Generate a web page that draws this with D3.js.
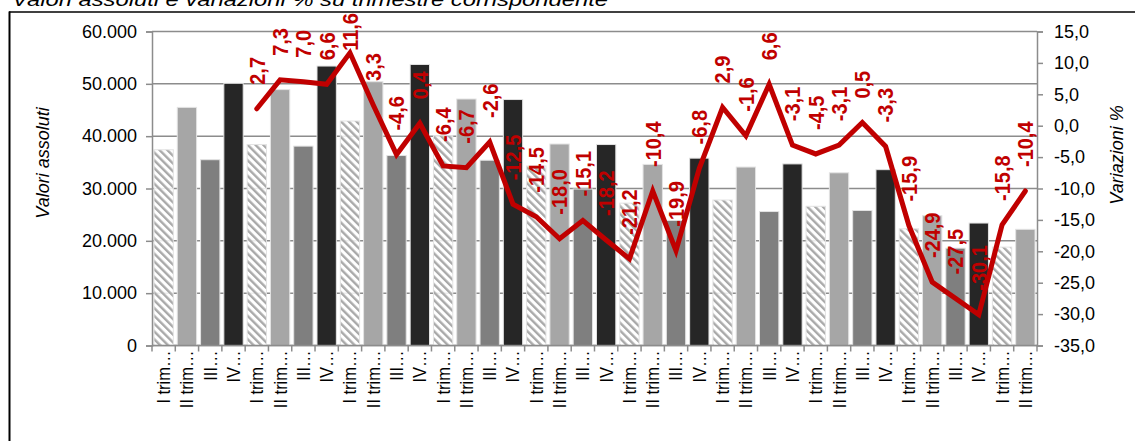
<!DOCTYPE html>
<html>
<head>
<meta charset="utf-8">
<script src="https://cdn.jsdelivr.net/npm/d3@7/dist/d3.min.js"></script>
<style>
  html, body { margin: 0; padding: 0; background: #fff; }
  svg { display: block; font-family: Arial, "Liberation Sans", sans-serif; }
</style>
</head>
<body>
<svg id="chart" width="1135" height="441"></svg>
<script>
// Quarter labels along the category axis
const tickLabels = [
  "I trim…", "II trim…", "III…", "IV…",
  "I trim…", "II trim…", "III…", "IV…",
  "I trim…", "II trim…", "III…", "IV…",
  "I trim…", "II trim…", "III…", "IV…",
  "I trim…", "II trim…", "III…", "IV…",
  "I trim…", "II trim…", "III…", "IV…",
  "I trim…", "II trim…", "III…", "IV…",
  "I trim…", "II trim…", "III…", "IV…",
  "I trim…", "II trim…", "III…", "IV…",
  "I trim…", "II trim…"
];

// Absolute values per quarter (left axis)
const valoriAssoluti = [
  37400, 45500, 35500, 50100,
  38400, 48900, 38100, 53400,
  42900, 50400, 36300, 53700,
  40100, 47100, 35400, 47000,
  34300, 38500, 29900, 38400,
  27200, 34600, 23900, 35800,
  27800, 34100, 25600, 34700,
  26600, 33000, 25800, 33600,
  22300, 24800, 18600, 23400,
  18800, 22200
];

// % change on the same quarter of the previous year (right axis), from the 5th quarter on
const variazioniStart = 4;
const variazioni = [
  2.7, 7.3, 7.0, 6.6,
  11.6, 3.3, -4.6, 0.4,
  -6.4, -6.7, -2.6, -12.5,
  -14.5, -18.0, -15.1, -18.2,
  -21.2, -10.4, -19.9, -6.8,
  2.9, -1.6, 6.6, -3.1,
  -4.5, -3.1, 0.5, -3.3,
  -15.9, -24.9, -27.5, -30.1,
  -15.8, -10.4
];

const leftTicks = [0, 10000, 20000, 30000, 40000, 50000, 60000];
const rightTicks = [15, 10, 5, 0, -5, -10, -15, -20, -25, -30, -35];

const locale = d3.formatLocale({ decimal: ",", thousands: ".", grouping: [3], currency: ["€", ""], minus: "-" });
const fmtAbs = locale.format(",.0f");
const fmtPct = locale.format(".1f");

const svg = d3.select("#chart");
const plot = { left: 152, right: 1037, top: 31.5, bottom: 345.5 };
const wide = 1.12; // glyphs are drawn slightly wider than tall

const x = d3.scaleBand()
  .domain(d3.range(valoriAssoluti.length))
  .range([plot.left, plot.right])
  .paddingInner(0.17)
  .paddingOuter(0.085);

const yL = d3.scaleLinear().domain([0, 60000]).range([plot.bottom, plot.top]);
const yR = d3.scaleLinear().domain([-35, 15]).range([plot.bottom, plot.top]);

// hatch pattern for first-quarter bars
const defs = svg.append("defs");
const pat = defs.append("pattern")
  .attr("id", "hatch")
  .attr("patternUnits", "userSpaceOnUse")
  .attr("width", 5.5).attr("height", 5.5)
  .attr("patternTransform", "rotate(-45)");
pat.append("rect").attr("width", 5.5).attr("height", 5.5).attr("fill", "#ffffff").attr("fill-opacity", 0.85);
pat.append("rect").attr("x", 0).attr("y", 0).attr("width", 2.4).attr("height", 5.5).attr("fill", "#a9a9a9");

const quarterFill = ["url(#hatch)", "#a6a6a6", "#7f7f7f", "#262626"];

// chart frame
svg.append("line").attr("x1", 9).attr("x2", 1135).attr("y1", 12).attr("y2", 12)
  .attr("stroke", "#000").attr("stroke-width", 1.5);
svg.append("line").attr("x1", 9.5).attr("x2", 9.5).attr("y1", 11.5).attr("y2", 441)
  .attr("stroke", "#000").attr("stroke-width", 2);

// title (its upper part runs past the top edge)
svg.append("text")
  .attr("x", 12).attr("y", 6)
  .attr("font-size", 19).attr("font-style", "italic")
  .attr("textLength", 596).attr("lengthAdjust", "spacingAndGlyphs")
  .attr("fill", "#000")
  .text("Valori assoluti e variazioni % su trimestre corrispondente");

// gridlines
svg.append("g").selectAll("line").data(leftTicks).join("line")
  .attr("x1", plot.left).attr("x2", plot.right)
  .attr("y1", d => yL(d)).attr("y2", d => yL(d))
  .attr("stroke", "#8c8c8c").attr("stroke-width", 1.5);

// bars
svg.append("g").selectAll("rect").data(valoriAssoluti).join("rect")
  .attr("x", (d, i) => x(i))
  .attr("width", x.bandwidth())
  .attr("y", d => yL(d))
  .attr("height", d => yL(0) - yL(d))
  .attr("fill", (d, i) => quarterFill[i % 4])
  .attr("stroke", "#e3e3e3").attr("stroke-width", 1);

// left axis
const axL = svg.append("g").attr("transform", `translate(${plot.left},0)`)
  .call(d3.axisLeft(yL).tickValues(leftTicks).tickFormat(fmtAbs).tickSize(6).tickPadding(9));
axL.select(".domain").attr("stroke", "#8c8c8c").attr("stroke-width", 1.5);
axL.selectAll(".tick line").attr("stroke", "#8c8c8c").attr("stroke-width", 1.5);
axL.selectAll(".tick text").attr("font-size", 18).attr("fill", "#000").attr("font-family", "Arial, 'Liberation Sans', sans-serif");

// right axis
const axR = svg.append("g").attr("transform", `translate(${plot.right},0)`)
  .call(d3.axisRight(yR).tickValues(rightTicks).tickFormat(fmtPct).tickSize(6).tickPadding(11));
axR.select(".domain").attr("stroke", "#8c8c8c").attr("stroke-width", 1.5);
axR.selectAll(".tick line").attr("stroke", "#8c8c8c").attr("stroke-width", 1.5);
axR.selectAll(".tick text").attr("font-size", 18).attr("fill", "#000").attr("font-family", "Arial, 'Liberation Sans', sans-serif");

// category axis: baseline, ticks between bars, rotated labels
const boundaries = d3.range(valoriAssoluti.length + 1).map(i => plot.left + (plot.right - plot.left) * i / valoriAssoluti.length);
const axB = svg.append("g");
axB.append("line").attr("x1", plot.left).attr("x2", plot.right)
  .attr("y1", plot.bottom).attr("y2", plot.bottom)
  .attr("stroke", "#8c8c8c").attr("stroke-width", 1.5);
axB.selectAll("line.tk").data(boundaries).join("line").attr("class", "tk")
  .attr("x1", d => d).attr("x2", d => d)
  .attr("y1", plot.bottom).attr("y2", plot.bottom + 6)
  .attr("stroke", "#8c8c8c").attr("stroke-width", 1.5);
axB.selectAll("text").data(tickLabels).join("text")
  .attr("transform", (d, i) => `translate(${x(i) + x.bandwidth() / 2},${plot.bottom + 5}) scale(${wide},1) rotate(-90)`)
  .attr("text-anchor", "end")
  .attr("dy", "0.35em")
  .attr("font-size", 16.5).attr("fill", "#000")
  .text(d => d);

// axis titles
svg.append("text")
  .attr("transform", `translate(43,163) rotate(-90)`)
  .attr("text-anchor", "middle").attr("dy", "0.35em")
  .attr("font-size", 18).attr("font-style", "italic").attr("fill", "#000")
  .text("Valori assoluti");
svg.append("text")
  .attr("transform", `translate(1117,155) rotate(-90)`)
  .attr("text-anchor", "middle").attr("dy", "0.35em")
  .attr("font-size", 18).attr("font-style", "italic").attr("fill", "#000")
  .text("Variazioni %");

// % change line
const pts = variazioni.map((v, k) => ({ i: k + variazioniStart, v }));
const line = d3.line()
  .x(d => x(d.i) + x.bandwidth() / 2)
  .y(d => yR(d.v));
svg.append("path")
  .datum(pts)
  .attr("d", line)
  .attr("fill", "none")
  .attr("stroke", "#c00000")
  .attr("stroke-width", 5)
  .attr("stroke-linejoin", "miter")
  .attr("stroke-linecap", "round");

// value labels above each point, kept inside the frame
const labG = svg.append("g");
labG.selectAll("text").data(pts).join("text")
  .attr("text-anchor", "start")
  .attr("dy", "0.35em")
  .attr("font-size", 20).attr("font-weight", "bold").attr("fill", "#c00000")
  .text(d => fmtPct(d.v))
  .each(function (d) {
    const len = this.getComputedTextLength();
    const px = x(d.i) + x.bandwidth() / 2;
    let start = yR(d.v) - 24;
    if (start - len < 13) start = 13 + len;
    d3.select(this).attr("transform", `translate(${px},${start}) scale(${wide},1) rotate(-90)`);
  });
</script>
</body>
</html>
